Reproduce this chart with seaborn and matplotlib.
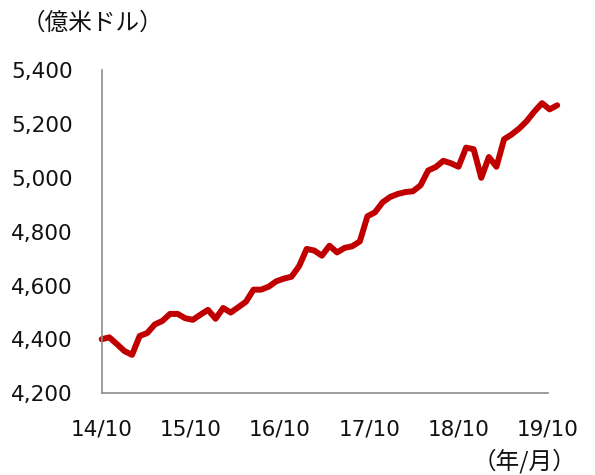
import numpy as np
import pandas as pd
import matplotlib
matplotlib.use("Agg")
import matplotlib.pyplot as plt
import seaborn as sns

# monthly values, 14/10 .. 19/10 (億米ドル)
values = [4401, 4408, 4383, 4357, 4343, 4413, 4424, 4456, 4469, 4495,
          4495, 4479, 4473, 4492, 4510, 4477, 4517, 4500, 4520, 4540,
          4585, 4585, 4596, 4616, 4626, 4633, 4672, 4736, 4730, 4711,
          4748, 4723, 4740, 4746, 4764, 4857, 4872, 4909, 4929, 4940,
          4947, 4950, 4972, 5027, 5040, 5063, 5054, 5041, 5112, 5106,
          5000, 5077, 5041, 5143, 5161, 5183, 5211, 5246, 5277, 5254,
          5269]
tick_labels = ["14/10", "15/10", "16/10", "17/10", "18/10", "19/10"]
y_ticks = [4200, 4400, 4600, 4800, 5000, 5200, 5400]

df = pd.DataFrame({"month": np.arange(len(values)), "value": values})

sns.set_style("white")
plt.rcParams["font.family"] = ["DejaVu Sans"]
cjk = ["Noto Sans CJK JP", "DejaVu Sans"]
grey = "#8c8c8c"

fig = plt.figure(figsize=(5.95, 4.75), dpi=100)
ax = fig.add_axes([101.7 / 595, 1 - 393.4 / 475, 446 / 595, 323.4 / 475])

sns.lineplot(data=df, x="month", y="value", ax=ax, color="#C00000",
             linewidth=4.3, solid_joinstyle="round", solid_capstyle="round",
             clip_on=False)

# axis ends at the last labelled tick (Excel style), the line runs a bit past it
x_right = 58.75
ax.set_xlim(0, x_right)
ax.set_ylim(4200, 5400)
ax.set_xticks(np.linspace(0, x_right, len(tick_labels)))
ax.set_xticklabels(tick_labels)
ax.set_yticks(y_ticks)
ax.set_yticklabels([f"{v:,}" for v in y_ticks])
ax.set_xlabel("")
ax.set_ylabel("")

for side in ["top", "right"]:
    ax.spines[side].set_visible(False)
for side in ["left", "bottom"]:
    ax.spines[side].set_color(grey)
    ax.spines[side].set_linewidth(1.2)

ax.tick_params(axis="both", direction="in", length=5.5, width=1.2, color=grey,
               labelsize=15.5, labelcolor="#111111")
ax.tick_params(axis="x", pad=19)
ax.tick_params(axis="y", pad=21)

fig.text(22 / 595, 1 - 23 / 475, "（億米ドル）", family=cjk, fontsize=17,
         ha="left", va="center", color="#111111")
fig.text(576 / 595, 1 - 461 / 475, "（年/月）", family=cjk, fontsize=17,
         ha="right", va="center", color="#111111")

fig.savefig("out.png", dpi=100)
